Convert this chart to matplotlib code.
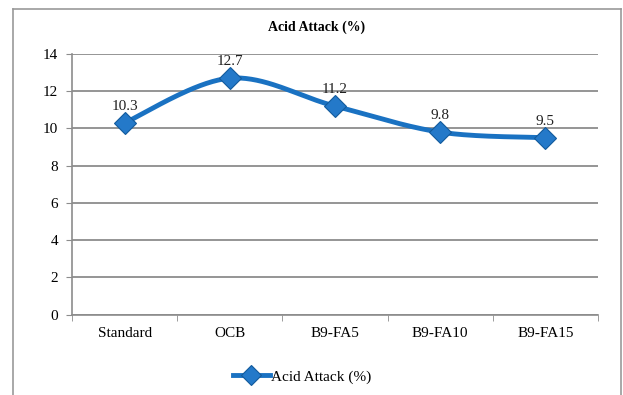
import numpy as np
import matplotlib
matplotlib.use("Agg")
import matplotlib.pyplot as plt
from matplotlib.lines import Line2D

categories = ["Standard", "OCB", "B9-FA5", "B9-FA10", "B9-FA15"]
values = [10.3, 12.7, 11.2, 9.8, 9.5]
yticks = [0, 2, 4, 6, 8, 10, 12, 14]
title = "Acid Attack (%)"
series_name = "Acid Attack (%)"

plt.rcParams["font.family"] = ["Liberation Serif", "DejaVu Serif"]

LINE = "#1a72c2"
MFC = "#2479c9"
MEC = "#125a9c"
GRID = "#8c8c8c"

def smooth(xs, ys, n=40):
    # Catmull-Rom style cubic Bezier smoothing (like spreadsheet "smoothed line")
    xs = np.asarray(xs, float); ys = np.asarray(ys, float)
    px = np.concatenate([[xs[0]], xs, [xs[-1]]])
    py = np.concatenate([[ys[0]], ys, [ys[-1]]])
    outx, outy = [], []
    t = np.linspace(0, 1, n)
    for i in range(1, len(px) - 2):
        p0 = np.array([px[i], py[i]]); p3 = np.array([px[i + 1], py[i + 1]])
        c1 = p0 + (np.array([px[i + 1], py[i + 1]]) - np.array([px[i - 1], py[i - 1]])) / 6
        c2 = p3 - (np.array([px[i + 2], py[i + 2]]) - np.array([px[i], py[i]])) / 6
        b = ((1 - t) ** 3)[:, None] * p0 + (3 * (1 - t) ** 2 * t)[:, None] * c1 \
            + (3 * (1 - t) * t ** 2)[:, None] * c2 + (t ** 3)[:, None] * p3
        outx.extend(b[:, 0]); outy.extend(b[:, 1])
    return np.array(outx), np.array(outy)

fig = plt.figure(figsize=(6.23, 3.95), dpi=100)
ax = fig.add_axes([72 / 623, 1 - 314.5 / 395, (598 - 72) / 623, (314.5 - 54) / 395])

x = np.arange(len(categories))
sx, sy = smooth(x, values)
ax.plot(sx, sy, color=LINE, lw=3.5, solid_capstyle="round", zorder=3)
ax.plot(x, values, ls="none", marker="D", ms=11, mfc=MFC, mec=MEC,
        mew=0.8, zorder=4)

for xi, v in zip(x, values):
    ax.annotate(f"{v:g}", (xi, v), xytext=(0, 7), textcoords="offset points",
                ha="center", va="bottom", fontsize=11, color="#222222")

ax.set_xlim(-0.5, len(categories) - 0.5)
ax.set_ylim(0, 14)
ax.set_yticks(yticks)
ax.set_yticklabels([str(t) for t in yticks], fontsize=11)
ax.set_xticks(x)
ax.set_xticklabels(categories, fontsize=11)
ax.set_xticks(np.arange(-0.5, len(categories), 1), minor=True)
ax.tick_params(axis="x", which="major", length=0, pad=9)
ax.tick_params(axis="x", which="minor", length=4, color=GRID, direction="out")
ax.tick_params(axis="y", length=4, color=GRID, pad=6)
ax.grid(axis="y", color=GRID, lw=1.3)
ax.set_axisbelow(True)
for s in ["top", "right"]:
    ax.spines[s].set_visible(False)
for s in ["left", "bottom"]:
    ax.spines[s].set_color(GRID)
    ax.spines[s].set_linewidth(1.2)

fig.text(317 / 623, 1 - 27 / 395, title, ha="center", va="center",
         fontsize=10, fontweight="bold")

handle = Line2D([], [], color=LINE, lw=3.5, marker="D", ms=10, mfc=MFC,
                mec=MEC, mew=0.8)
fig.legend([handle], [series_name], loc="center", bbox_to_anchor=(302 / 623, 1 - 377 / 395),
           frameon=False, fontsize=11, handlelength=2.4, handletextpad=0.05)

# outer chart border
L, T, R = 12.7 / 623, 1 - 9 / 395, 621 / 623
for xs_, ys_ in [([L, L], [-0.05, T]), ([L, R], [T, T]), ([R, R], [T, -0.05])]:
    fig.add_artist(Line2D(xs_, ys_, transform=fig.transFigure, color="#999999", lw=1.2))

fig.savefig("out.png", dpi=100)
